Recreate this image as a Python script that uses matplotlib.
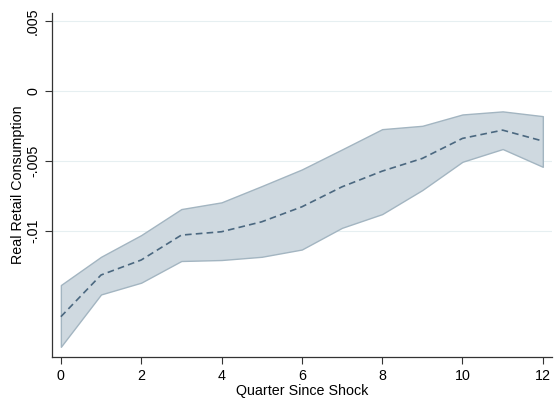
import matplotlib
matplotlib.use("Agg")
import matplotlib.pyplot as plt

plt.rcParams['font.family'] = ['Liberation Sans', 'DejaVu Sans']

quarters = list(range(13))
irf = [-0.01614, -0.01316, -0.01209, -0.01031, -0.01007, -0.00936, -0.00829,
       -0.00686, -0.00574, -0.00483, -0.00340, -0.00281, -0.00359]
upper = [-0.01388, -0.01186, -0.01031, -0.00845, -0.00797, -0.00681, -0.00562,
         -0.00419, -0.00274, -0.00250, -0.00169, -0.00147, -0.00181]
lower = [-0.01829, -0.01455, -0.01371, -0.01216, -0.01209, -0.01186, -0.01134,
         -0.00979, -0.00881, -0.00709, -0.00507, -0.00416, -0.00543]

yticks = [0.005, 0, -0.005, -0.01]
ytick_labels = ['.005', '0', '-.005', '-.01']

fig = plt.figure(figsize=(5.57, 3.98), dpi=100)
ax = fig.add_axes([0.0934, 0.103, 0.897, 0.864])

for t in yticks:
    ax.axhline(t, color='#e6eff1', lw=0.8, zorder=0)

ax.fill_between(quarters, lower, upper, facecolor='#cfd9e0', edgecolor='#a3b5c1',
                lw=1.0, zorder=1)
ax.plot(quarters, irf, color='#4b6880', lw=1.2, ls=(0, (4, 2.5)), zorder=2)

ax.set_xlim(-0.22, 12.22)
ax.set_ylim(-0.01902, 0.00555)
ax.set_xticks([0, 2, 4, 6, 8, 10, 12])
ax.set_yticks(yticks)
ax.set_yticklabels(ytick_labels, rotation=90, va='center')
ax.tick_params(direction='out', length=5, width=0.8, labelsize=10.3, color='#333333')

for s in ['top', 'right']:
    ax.spines[s].set_visible(False)
for s in ['left', 'bottom']:
    ax.spines[s].set_color('#333333')
    ax.spines[s].set_linewidth(0.9)

ax.set_xlabel('Quarter Since Shock', fontsize=10.3, labelpad=1)
ax.set_ylabel('Real Retail Consumption', fontsize=10.3, labelpad=1)

fig.savefig('out.png', dpi=100)
